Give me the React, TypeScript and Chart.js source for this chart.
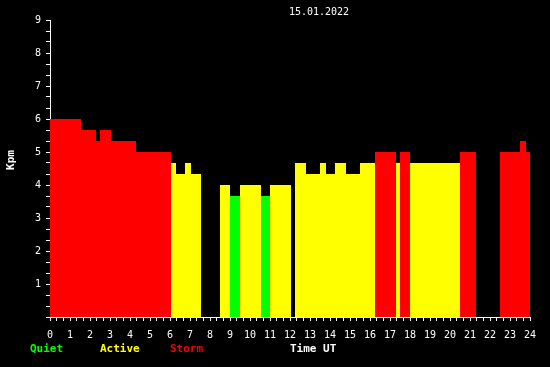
import React, { useEffect, useRef } from "react";
import { Chart, registerables } from "chart.js";

Chart.register(...registerables);

// Kp segments (hours UT)
const segStarts = [0, 1.55, 2.3, 2.5, 3.05, 4.3, 6.05, 6.3, 6.75, 7.05, 8.5, 9.0, 9.5, 10.55, 11.0, 12.25, 12.8, 13.5, 13.8, 14.25, 14.8, 15.5, 16.25, 17.3, 17.5, 18.0, 20.5, 22.5, 23.5, 23.8];
const segEnds = [1.55, 2.3, 2.5, 3.05, 4.3, 6.05, 6.3, 6.75, 7.05, 7.55, 9.0, 9.5, 10.55, 11.0, 12.05, 12.8, 13.5, 13.8, 14.25, 14.8, 15.5, 16.25, 17.3, 17.5, 18.0, 20.5, 21.3, 23.5, 23.8, 24];
const kpValues = [6, 5.67, 5.33, 5.67, 5.33, 5, 4.67, 4.33, 4.67, 4.33, 4, 3.67, 4, 3.67, 4, 4.67, 4.33, 4.67, 4.33, 4.67, 4.33, 4.67, 5, 4.67, 5, 4.67, 5, 5, 5.33, 5];

const titleText = "15.01.2022";
const yTitle = "Kpm";
const xTitle = "Time UT";
const legendLabels = ["Quiet", "Active", "Storm"];
const legendColors = ["#00ff00", "#ffff00", "#ff0000"];
const legendX = [30, 100, 170];

const colorFor = (v: number) => (v >= 5 ? "#ff0000" : v >= 4 ? "#ffff00" : "#00ff00");

const MONO = "'DejaVu Sans Mono', 'Liberation Mono', monospace";

export default function App() {
  const ref = useRef<HTMLCanvasElement>(null);
  useEffect(() => {
    document.body.style.margin = "0";
    document.body.style.background = "#000";
    const datasets = kpValues.map((v, i) => ({
      data: [
        { x: segStarts[i], y: v },
        { x: segEnds[i], y: v },
      ],
      fill: "origin",
      backgroundColor: colorFor(v),
      borderWidth: 0,
      pointRadius: 0,
    }));

    const textPlugin = {
      id: "texts",
      beforeDraw(chart: any) {
        const c = chart.ctx;
        c.save();
        c.fillStyle = "#000";
        c.fillRect(0, 0, chart.width, chart.height);
        c.restore();
      },
      afterDraw(chart: any) {
        const c = chart.ctx;
        c.save();
        c.fillStyle = "#fff";
        c.font = `10px ${MONO}`;
        c.textAlign = "center";
        c.textBaseline = "middle";
        c.fillText(titleText, 319, 12);
        c.font = `bold 11px ${MONO}`;
        c.save();
        c.translate(11, 160);
        c.rotate(-Math.PI / 2);
        c.fillText(yTitle, 0, 0);
        c.restore();
        c.textAlign = "left";
        c.fillText(xTitle, 290, 349);
        legendLabels.forEach((l, i) => {
          c.fillStyle = legendColors[i];
          c.fillText(l, legendX[i], 349);
        });
        c.restore();
      },
    };

    const chart = new Chart(ref.current!, {
      type: "line",
      data: { datasets: datasets as any },
      options: {
        animation: false,
        responsive: false,
        plugins: { legend: { display: false }, tooltip: { enabled: false }, title: { display: false } },
        layout: { padding: { top: 20, right: 20, left: 0, bottom: 0 } },
        scales: {
          x: {
            type: "linear",
            min: 0,
            max: 24,
            border: { color: "#fff", width: 1 },
            grid: { drawOnChartArea: false, drawTicks: true, tickLength: 4, tickColor: "#fff", color: "#fff" },
            afterBuildTicks: (s: any) => {
              s.ticks = Array.from({ length: 73 }, (_, i) => ({ value: i / 3 }));
            },
            afterFit: (s: any) => {
              s.height = 50;
            },
            ticks: {
              autoSkip: false,
              maxRotation: 0,
              color: "#fff",
              padding: 8,
              font: { family: MONO, size: 10 },
              callback: (v: any) => {
                const n = Number(v);
                return Math.abs(n - Math.round(n)) < 1e-6 ? String(Math.round(n)) : "";
              },
            },
          },
          y: {
            type: "linear",
            min: 0,
            max: 9,
            border: { color: "#fff", width: 1 },
            grid: { drawOnChartArea: false, drawTicks: true, tickLength: 4, tickColor: "#fff", color: "#fff" },
            afterBuildTicks: (s: any) => {
              s.ticks = Array.from({ length: 28 }, (_, i) => ({ value: i / 3 }));
            },
            afterFit: (s: any) => {
              s.width = 50;
            },
            ticks: {
              autoSkip: false,
              color: "#fff",
              padding: 5,
              font: { family: MONO, size: 10 },
              callback: (v: any) => {
                const n = Number(v);
                const r = Math.round(n);
                return Math.abs(n - r) < 1e-6 && r > 0 ? String(r) : "";
              },
            },
          },
        },
      } as any,
      plugins: [textPlugin],
    });
    return () => chart.destroy();
  }, []);
  return <canvas ref={ref} width={550} height={367} style={{ display: "block" }} />;
}
